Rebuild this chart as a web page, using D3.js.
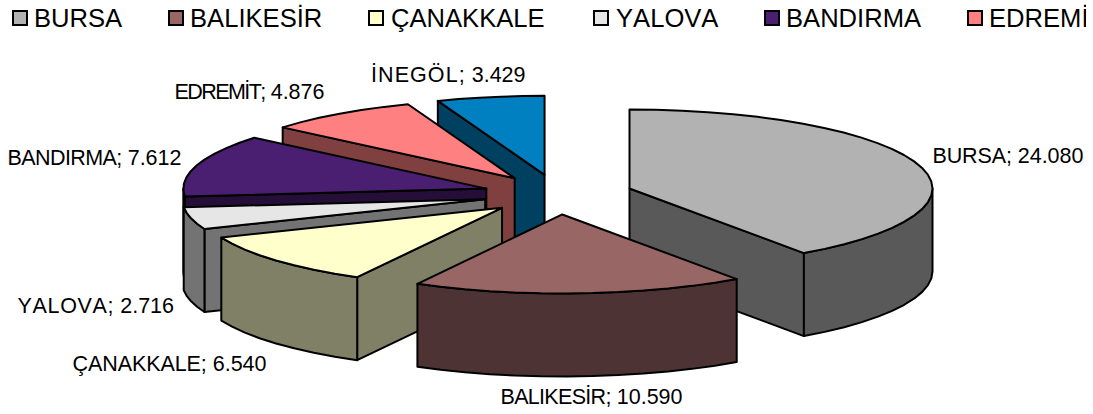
<!DOCTYPE html>
<html lang="tr"><head><meta charset="utf-8">
<style>html,body{margin:0;padding:0;background:#fff}svg{display:block}text{font-family:"Liberation Sans",Arial,sans-serif;fill:#000;font-kerning:none}</style>
<script src="https://cdn.jsdelivr.net/npm/d3@7/dist/d3.min.js"></script>
</head><body><svg id="c" width="1093" height="414"></svg>
<script>
const categories = ["BURSA","BALIKESİR","ÇANAKKALE","YALOVA","BANDIRMA","EDREMİT","İNEGÖL"];
const values = [24080,10590,6540,2716,7612,4876,3429];
const topColors = ["#B2B2B2","#996666","#FFFFCC","#E6E6E6","#4A1E70","#FF8080","#0080C0"];
const sideColors = ["#595959","#4D3333","#808066","#737373","#250F38","#804040","#004060"];
const legendBoxX = [12,168,368,593,764,967];
const legendTextX = [34,190,391,616,786,989];
const labelLayout = [[932.5,163,151],[500.5,404,182],[72.5,371,194],[17.5,313,156.5],[7.5,165,174],[174.5,98.5,150],[371,82,154.5]];
const drawOrder = [6,5,4,3,2,0,1];

const W=1093,H=414, cx=558, cy=194.5, rx=303, ry=79, depth=83, explodeX=75, explodeY=20;
const svg=d3.select("#c");
const fmt=d3.formatLocale({decimal:",",thousands:".",grouping:[3],currency:["",""]}).format(",d");
const sx=d3.scaleLinear().domain([-1,1]).range([-rx,rx]);
const sy=d3.scaleLinear().domain([-1,1]).range([ry,-ry]);
const arcs=d3.pie().value(d=>d).sort(null)(values);
const line=d3.line();
const black="#000";

function pt(c,a,dz=0){return [c[0]+sx(Math.sin(a)),c[1]+sy(Math.cos(a))+dz];}
function samples(a,b){const n=Math.max(2,Math.ceil((b-a)/(Math.PI/36)));return d3.range(n+1).map(i=>a+(b-a)*i/n);}

const pieG=svg.append("g").attr("stroke",black).attr("stroke-width",2).attr("stroke-linejoin","round");
drawOrder.forEach(i=>{
  const {startAngle:a,endAngle:b}=arcs[i], m=(a+b)/2;
  const c=[cx+explodeX*Math.sin(m), cy-explodeY*Math.cos(m)];
  const g=pieG.append("g").attr("class","slice");
  const quad=t=>[c,pt(c,t),pt(c,t,depth),[c[0],c[1]+depth]];
  if(Math.sin(a)<-1e-6) g.append("path").attr("d",line(quad(a))+"Z").attr("fill",sideColors[i]);
  if(Math.sin(b)>1e-6) g.append("path").attr("d",line(quad(b))+"Z").attr("fill",sideColors[i]);
  const wa=Math.max(a,Math.PI/2), wb=Math.min(b,Math.PI*1.5);
  if(wb>wa){
    const s=samples(wa,wb);
    g.append("path").attr("d",line([...s.map(t=>pt(c,t)),...s.slice().reverse().map(t=>pt(c,t,depth))])+"Z").attr("fill",sideColors[i]);
  }
  g.append("path").attr("d",line([c,...samples(a,b).map(t=>pt(c,t))])+"Z").attr("fill",topColors[i]);
});

svg.append("clipPath").attr("id","lc").append("rect").attr("x",0).attr("y",0).attr("width",1086).attr("height",60);
const lg=svg.append("g").attr("clip-path","url(#lc)");
legendBoxX.forEach((x,i)=>{
  lg.append("rect").attr("x",x+1).attr("y",11).attr("width",14).attr("height",14).attr("fill",topColors[i]).attr("stroke",black).attr("stroke-width",2);
  lg.append("text").attr("x",legendTextX[i]).attr("y",27).attr("font-size",25.6).text(categories[i]);
});

const fs=21.5;
function measure(s){const t=svg.append("text").attr("font-size",fs).text(s);const w=t.node().getComputedTextLength();t.remove();return w;}
labelLayout.forEach((l,i)=>{
  const name=categories[i]+";", val=fmt(values[i]);
  const valW=measure(val), natW=measure(name), gap=fs*0.278;
  const ls=(l[2]-valW-gap-natW)/name.length;
  const t=svg.append("text").attr("x",l[0]).attr("y",l[1]).attr("font-size",fs);
  t.append("tspan").attr("letter-spacing",ls).text(name);
  t.append("tspan").text(" ");
  t.append("tspan").text(val);
});
</script></body></html>
